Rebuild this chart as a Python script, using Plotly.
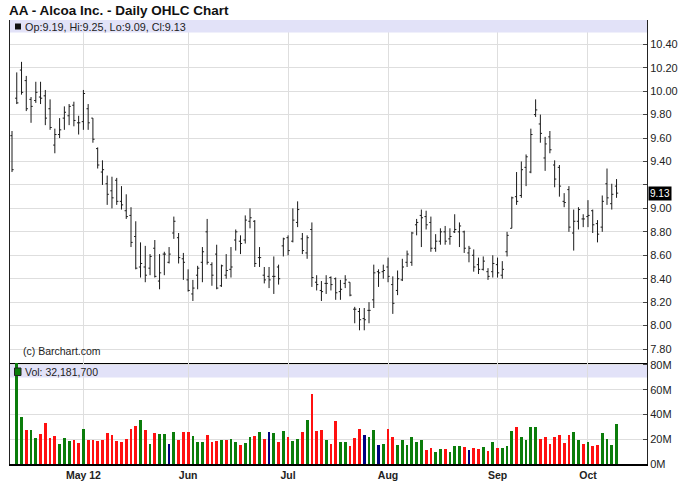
import plotly.graph_objects as go

# ---- data (AA daily, Apr 10 - Oct 9, 2012) ----
opens = [9.62, 9.94, 10.18, 10.09, 9.93, 9.92, 9.95, 9.96, 9.85, 9.54,
         9.63, 9.77, 9.79, 9.88, 9.73, 9.74, 9.85, 9.77, 9.51, 9.31,
         9.21, 9.15, 9.24, 9.06, 8.98, 8.94, 8.76, 8.50, 8.50, 8.49,
         8.66, 8.38, 8.61, 8.54, 8.79, 8.75, 8.57, 8.39, 8.27, 8.43,
         8.54, 8.80, 8.52, 8.61, 8.34, 8.43, 8.48, 8.73, 8.72, 8.73,
         8.89, 8.89, 8.58, 8.43, 8.42, 8.42, 8.50, 8.68, 8.75, 8.72,
         8.88, 8.74, 8.62, 8.82, 8.37, 8.30, 8.36, 8.41, 8.40, 8.29,
         8.36, 8.37, 8.14, 8.12, 8.06, 8.13, 8.22, 8.46, 8.46, 8.50,
         8.35, 8.30, 8.39, 8.54, 8.54, 8.86, 8.94, 8.93, 8.88, 8.66,
         8.72, 8.80, 8.74, 8.80, 8.80, 8.80, 8.62, 8.60, 8.52, 8.48,
         8.46, 8.46, 8.52, 8.43, 8.63, 8.83, 9.10, 9.11, 9.35, 9.31,
         9.80, 9.72, 9.43, 9.61, 9.37, 9.35, 9.06, 9.16, 8.79, 8.89,
         8.91, 8.93, 8.98, 8.87, 8.84, 9.21, 9.04, 9.19]
highs = [9.66, 10.16, 10.25, 10.13, 9.95, 10.08, 10.08, 10.01, 9.93, 9.68,
         9.77, 9.87, 9.89, 9.91, 9.79, 10.01, 9.89, 9.77, 9.52, 9.41,
         9.28, 9.27, 9.26, 9.19, 9.12, 9.01, 8.89, 8.71, 8.68, 8.61,
         8.73, 8.61, 8.63, 8.67, 8.93, 8.79, 8.62, 8.48, 8.39, 8.51,
         8.67, 8.91, 8.54, 8.69, 8.52, 8.61, 8.67, 8.82, 8.77, 8.94,
         9.00, 8.90, 8.67, 8.50, 8.50, 8.59, 8.52, 8.75, 8.77, 9.00,
         9.06, 8.79, 8.77, 8.88, 8.43, 8.38, 8.43, 8.42, 8.41, 8.39,
         8.43, 8.37, 8.16, 8.15, 8.15, 8.20, 8.52, 8.48, 8.52, 8.58,
         8.42, 8.47, 8.57, 8.64, 8.80, 8.91, 8.99, 8.98, 8.93, 8.78,
         8.83, 8.85, 8.83, 8.95, 8.88, 8.81, 8.68, 8.65, 8.58, 8.59,
         8.49, 8.60, 8.58, 8.55, 8.80, 9.10, 9.31, 9.40, 9.46, 9.68,
         9.93, 9.80, 9.61, 9.66, 9.41, 9.37, 9.13, 9.19, 8.99, 9.01,
         8.95, 9.07, 8.99, 8.90, 9.11, 9.34, 9.21, 9.25]
lows = [9.31, 9.89, 9.97, 9.83, 9.73, 9.90, 9.89, 9.71, 9.67, 9.47,
        9.60, 9.67, 9.71, 9.70, 9.63, 9.67, 9.67, 9.56, 9.34, 9.20,
        9.03, 9.00, 9.03, 8.99, 8.91, 8.67, 8.48, 8.41, 8.37, 8.43,
        8.41, 8.31, 8.43, 8.53, 8.74, 8.53, 8.39, 8.29, 8.21, 8.31,
        8.37, 8.52, 8.34, 8.31, 8.33, 8.40, 8.41, 8.64, 8.61, 8.70,
        8.83, 8.50, 8.50, 8.36, 8.32, 8.27, 8.35, 8.59, 8.60, 8.71,
        8.84, 8.61, 8.57, 8.33, 8.30, 8.21, 8.27, 8.30, 8.22, 8.22,
        8.32, 8.25, 8.02, 7.96, 7.96, 8.02, 8.15, 8.33, 8.40, 8.37,
        8.10, 8.26, 8.38, 8.50, 8.51, 8.77, 8.67, 8.82, 8.63, 8.63,
        8.69, 8.69, 8.69, 8.79, 8.67, 8.62, 8.54, 8.46, 8.44, 8.47,
        8.39, 8.41, 8.41, 8.40, 8.59, 8.83, 9.03, 9.09, 9.19, 9.30,
        9.78, 9.56, 9.32, 9.47, 9.18, 9.10, 9.01, 8.80, 8.64, 8.82,
        8.84, 8.84, 8.79, 8.71, 8.80, 9.03, 8.99, 9.09]
closes = [9.33, 9.90, 9.99, 9.85, 9.87, 9.99, 9.94, 9.77, 9.69, 9.63,
          9.67, 9.82, 9.87, 9.75, 9.73, 9.98, 9.73, 9.59, 9.37, 9.33,
          9.12, 9.09, 9.06, 9.03, 8.93, 8.71, 8.49, 8.53, 8.43, 8.59,
          8.42, 8.45, 8.61, 8.61, 8.89, 8.58, 8.54, 8.30, 8.32, 8.49,
          8.63, 8.54, 8.43, 8.32, 8.51, 8.47, 8.50, 8.80, 8.70, 8.90,
          8.92, 8.53, 8.58, 8.39, 8.39, 8.42, 8.40, 8.74, 8.64, 8.90,
          8.99, 8.64, 8.75, 8.41, 8.35, 8.29, 8.36, 8.35, 8.28, 8.31,
          8.39, 8.26, 8.14, 8.05, 8.05, 8.13, 8.45, 8.45, 8.47, 8.42,
          8.19, 8.40, 8.50, 8.61, 8.79, 8.88, 8.92, 8.86, 8.66, 8.72,
          8.80, 8.72, 8.76, 8.82, 8.85, 8.66, 8.66, 8.50, 8.48, 8.55,
          8.42, 8.53, 8.45, 8.48, 8.77, 9.09, 9.06, 9.33, 9.44, 9.63,
          9.84, 9.64, 9.55, 9.50, 9.25, 9.19, 9.05, 8.84, 8.89, 8.99,
          8.91, 8.94, 8.86, 8.78, 9.06, 9.09, 9.12, 9.13]
# volume in millions of shares (first bar has no visible volume)
volume_m = [None, 84.0, 38.0, 27.7, 27.7, 21.3, 24.5, 33.3, 20.8, 22.4,
            16.0, 20.8, 18.4, 19.2, 16.8, 28.5, 19.2, 19.2, 18.4, 19.2,
            25.3, 23.7, 18.4, 17.6, 20.0, 28.5, 30.7, 35.7, 27.7, 16.0,
            25.3, 24.5, 24.5, 16.0, 26.1, 19.2, 26.1, 25.6, 22.9, 17.6,
            17.6, 23.7, 17.6, 18.4, 19.2, 19.2, 20.0, 17.6, 15.2, 16.8,
            22.1, 22.9, 26.1, 20.0, 26.1, 25.3, 17.6, 26.9, 22.1, 18.4,
            20.0, 26.1, 35.7, 56.5, 26.9, 27.7, 19.2, 16.0, 34.9, 17.6,
            17.6, 14.4, 20.8, 28.5, 23.7, 22.1, 27.7, 15.2, 16.0, 28.5,
            22.1, 15.2, 19.2, 15.2, 22.1, 17.6, 19.2, 11.2, 12.8, 9.6,
            12.0, 12.0, 9.6, 14.4, 14.4, 13.6, 11.2, 12.8, 12.0, 13.6,
            10.4, 17.6, 12.8, 12.8, 14.4, 26.9, 30.1, 21.6, 19.2, 30.1,
            30.1, 20.0, 21.6, 16.0, 21.6, 23.7, 16.8, 23.7, 26.1, 19.2,
            16.0, 17.6, 14.4, 15.2, 25.3, 20.0, 15.2, 32.1817]
last_volume = 32181700

month_labels = ["May 12", "Jun", "Jul", "Aug", "Sep", "Oct"]
month_start_idx = [15, 37, 58, 79, 102, 121]
price_ticks = [7.8, 8.0, 8.2, 8.4, 8.6, 8.8, 9.0, 9.2, 9.4, 9.6, 9.8, 10.0, 10.2, 10.4]
vol_ticks_m = [0, 20, 40, 60, 80]

# ---- build figure ----
n = len(closes)
x = list(range(n))
volume = [None if v is None else v * 1e6 for v in volume_m]

UP, DOWN, FLAT = "#0b7d0b", "#ff1010", "#000080"
vol_colors = [UP]
for i in range(1, n):
    if closes[i] > closes[i - 1]:
        vol_colors.append(UP)
    elif closes[i] < closes[i - 1]:
        vol_colors.append(DOWN)
    else:
        vol_colors.append(FLAT)

FONT = "Liberation Sans, Arial, Helvetica, sans-serif"
W, H = 688, 503
ml, mr, mt, mb = 10, 41, 20, 39
pw, ph = W - ml - mr, H - mt - mb
vol_h = 101
vd = vol_h / ph


def px_x(p):
    return (p - ml) / pw


def px_y(p):
    return (H - mb - p) / ph


fig = go.Figure()
fig.add_trace(go.Ohlc(
    x=x, open=opens, high=highs, low=lows, close=closes,
    increasing=dict(line=dict(color="#1a1a1a", width=1)),
    decreasing=dict(line=dict(color="#1a1a1a", width=1)),
    tickwidth=0.35, xaxis="x", yaxis="y", showlegend=False,
))
fig.add_trace(go.Bar(
    x=x, y=volume, marker=dict(color=vol_colors, line=dict(width=0)),
    width=0.58, xaxis="x2", yaxis="y2", showlegend=False,
))

xrange = [-0.42, 133.4]
grid = "#dedede"
fig.update_layout(
    width=W, height=H,
    margin=dict(l=ml, r=mr, t=mt, b=mb),
    paper_bgcolor="white", plot_bgcolor="white",
    font=dict(family=FONT, size=10.5, color="#222"),
    showlegend=False,
    bargap=0,
    xaxis=dict(domain=[0, 1], anchor="y", range=xrange, tickvals=month_start_idx,
               showticklabels=False, ticks="", showgrid=True, gridcolor=grid, gridwidth=1,
               showline=True, linecolor="#000", linewidth=2, zeroline=False,
               rangeslider=dict(visible=False)),
    yaxis=dict(domain=[vd, 1], anchor="x", side="right", range=[7.681, 10.607],
               tickvals=price_ticks,
               ticktext=["" if abs(t - 9.2) < 1e-9 else f"{t:.2f}" for t in price_ticks],
               ticks="inside", ticklen=4, tickcolor="#444", showgrid=True, gridcolor=grid,
               showline=True, mirror=True, linecolor="#222", linewidth=1, zeroline=False,
               tickfont=dict(size=11, color="#222")),
    xaxis2=dict(domain=[0, 1], anchor="y2", range=xrange, tickvals=month_start_idx,
                ticktext=month_labels, ticks="", showgrid=True, gridcolor=grid,
                showline=True, linecolor="#000", linewidth=2, zeroline=False,
                tickfont=dict(size=10.5, color="#222", weight="bold")),
    yaxis2=dict(domain=[0, vd], anchor="x2", side="right", range=[0, 81.6e6],
                tickvals=[v * 1e6 for v in vol_ticks_m], ticktext=[f"{v}M" for v in vol_ticks_m],
                ticks="inside", ticklen=4, tickcolor="#444", showgrid=True, gridcolor=grid,
                showline=True, mirror=True, linecolor="#222", linewidth=1, zeroline=False,
                tickfont=dict(size=11, color="#222")),
)

band = "#e2e2f8"
# price legend band (drawn above grid; no data reaches it)
fig.add_shape(type="rect", xref="paper", yref="paper", x0=0, x1=1,
              y0=px_y(32.5), y1=px_y(20), fillcolor=band, line=dict(width=0), layer="above")
# volume legend band (below the bars)
fig.add_shape(type="rect", xref="paper", yref="paper", x0=0, x1=1,
              y0=px_y(377.5), y1=px_y(365), fillcolor=band, line=dict(width=0), layer="below")
# legend squares
fig.add_shape(type="rect", xref="paper", yref="paper", x0=px_x(15), x1=px_x(21),
              y0=px_y(29.5), y1=px_y(23.5), fillcolor="#111", line=dict(width=0), layer="above")
fig.add_shape(type="rect", xref="paper", yref="paper", x0=px_x(14.5), x1=px_x(21),
              y0=px_y(375.5), y1=px_y(368), fillcolor=UP, line=dict(color="#222", width=1),
              layer="above")

fig.add_annotation(xref="paper", yref="paper", x=px_x(7), y=px_y(10.5), xanchor="left",
                   yanchor="middle", showarrow=False,
                   text="<b>AA - Alcoa Inc. - Daily OHLC Chart</b>",
                   font=dict(size=13.5, color="#111", family=FONT))
fig.add_annotation(xref="paper", yref="paper", x=px_x(23), y=px_y(26.5), xanchor="left",
                   yanchor="middle", showarrow=False,
                   text=f"Op:{opens[-1]:.2f}, Hi:{highs[-1]:.2f}, Lo:{lows[-1]:.2f}, Cl:{closes[-1]:.2f}",
                   font=dict(size=10.8, color="#222"))
fig.add_annotation(xref="paper", yref="paper", x=px_x(23), y=px_y(371.5), xanchor="left",
                   yanchor="middle", showarrow=False, text=f"Vol: {last_volume:,}",
                   font=dict(size=10.5, color="#222"))
fig.add_annotation(xref="paper", yref="paper", x=px_x(21), y=px_y(351), xanchor="left",
                   yanchor="middle", showarrow=False, text="(c) Barchart.com",
                   font=dict(size=10.5, color="#222"))
fig.add_annotation(xref="paper", yref="y", x=1, y=closes[-1], xanchor="left", xshift=1,
                   yanchor="middle", showarrow=False, text=f"{closes[-1]:.2f}",
                   bgcolor="#000", borderpad=1, font=dict(size=10, color="#fff"))

fig.write_html("out.html", config={"displayModeBar": False},
               post_script="document.body.style.margin='0px';")
